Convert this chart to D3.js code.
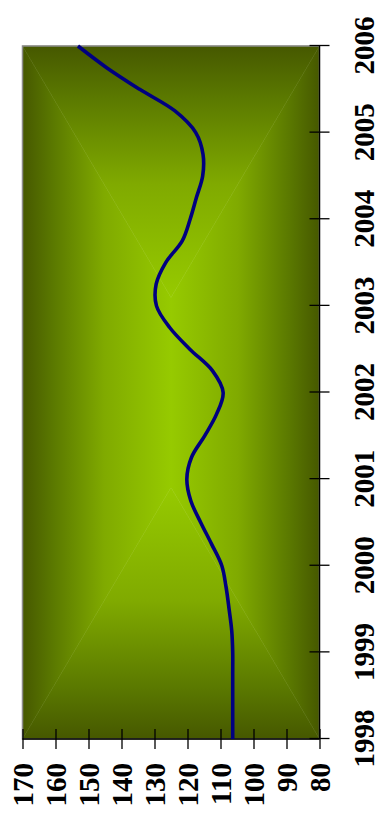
<!DOCTYPE html>
<meta charset="utf-8">
<style>
body { margin: 0; background: #fff; }
.tick text { font: bold 29px "Liberation Serif", "Times New Roman", serif; fill: #000; }
.domain { stroke: #000; stroke-width: 1.3px; }
.tick line { stroke: #000; stroke-width: 1.3px; }
.line { fill: none; stroke: #000080; stroke-width: 3.6px; stroke-linejoin: round; }
</style>
<svg width="381" height="825"></svg>
<script src="https://d3js.org/d3.v7.min.js"></script>
<script>

// quarterly points, 1998 to 2006
var years = [1998, 1999, 2000, 2001, 2002, 2003, 2004, 2005, 2006];
var quarters = [
  1998, 1998.25, 1998.5, 1998.75,
  1999, 1999.25, 1999.5, 1999.75,
  2000, 2000.25, 2000.5, 2000.75,
  2001, 2001.25, 2001.5, 2001.75,
  2002, 2002.25, 2002.5, 2002.75,
  2003, 2003.25, 2003.5, 2003.75,
  2004, 2004.25, 2004.5, 2004.75,
  2005, 2005.25, 2005.5, 2005.75,
  2006];
var values = [
  106.3, 106.3, 106.3, 106.3,
  106.3, 106.6, 107.4, 108.3,
  109.6, 112.7, 116.0, 119.0,
  120.2, 118.8, 114.8, 111.2,
  109.2, 112.4, 119.3, 125.4,
  129.4, 129.5, 126.6, 121.6,
  119.2, 117.3, 115.4, 115.3,
  117.5, 123.8, 134.5, 144.5,
  153.2];
var valueTicks = [80, 90, 100, 110, 120, 130, 140, 150, 160, 170];

var svg = d3.select("svg");

// the chart is drawn upright, then turned a quarter turn left
var W = 693, H = 297;
var g = svg.append("g").attr("transform", "translate(22.5,739) rotate(-90)");

var x = d3.scaleLinear().domain([1998, 2006]).range([0, W]);
var y = d3.scaleLinear().domain([80, 170]).range([H, 0]);

// "from centre" fill: two trapezoids and two triangles round a short core
var defs = svg.append("defs");
function grad(id, x1, y1, x2, y2) {
  var lg = defs.append("linearGradient").attr("id", id)
      .attr("gradientUnits", "userSpaceOnUse")
      .attr("x1", x1).attr("y1", y1).attr("x2", x2).attr("y2", y2);
  lg.append("stop").attr("offset", 0).attr("stop-color", "#465800");
  lg.append("stop").attr("offset", 0.2).attr("stop-color", "#5a7800");
  lg.append("stop").attr("offset", 0.55).attr("stop-color", "#80aa00");
  lg.append("stop").attr("offset", 1).attr("stop-color", "#96ca00");
}
var cx = W / 2, cy = H / 2, k = 95;
grad("gT", 0, 0, 0, cy);
grad("gB", 0, H, 0, cy);
grad("gL", 0, 0, cx - k, 0);
grad("gR", W, 0, cx + k, 0);

var parts = [
  {id: "gT", p: [[0, 0], [W, 0], [cx + k, cy], [cx - k, cy]]},
  {id: "gB", p: [[0, H], [W, H], [cx + k, cy], [cx - k, cy]]},
  {id: "gL", p: [[0, 0], [0, H], [cx - k, cy]]},
  {id: "gR", p: [[W, 0], [W, H], [cx + k, cy]]}
];
g.selectAll(".bg")
  .data(parts)
  .enter().append("polygon")
    .attr("points", function(d) { return d.p.join(" "); })
    .attr("fill", function(d) { return "url(#" + d.id + ")"; })
    .attr("stroke", function(d) { return "url(#" + d.id + ")"; })
    .attr("stroke-width", 0.5);

g.append("rect")
    .attr("width", W).attr("height", H)
    .attr("fill", "none").attr("stroke", "#8c8c8c").attr("stroke-width", 1.5);

// axes
var xAxis = g.append("g")
    .attr("transform", "translate(0," + H + ")")
    .call(d3.axisBottom(x).tickValues(years).tickFormat(d3.format("d")).tickSize(10).tickPadding(24));
xAxis.selectAll(".tick line").attr("y1", -10);
xAxis.select(".domain").attr("d", "M0,0H" + W);

var yAxis = g.append("g")
    .call(d3.axisLeft(y).tickValues(valueTicks).tickSize(10).tickPadding(14));
yAxis.selectAll(".tick line").attr("x1", 10);
yAxis.select(".domain").attr("d", "M0,0V" + H);
yAxis.selectAll(".tick text").attr("dy", "0.35em");

var line = d3.line()
    .x(function(d, i) { return x(quarters[i]); })
    .y(function(d) { return y(d); })
    .curve(d3.curveCatmullRom.alpha(0.5));

g.append("path")
    .datum(values)
    .attr("class", "line")
    .attr("d", line);

</script>
